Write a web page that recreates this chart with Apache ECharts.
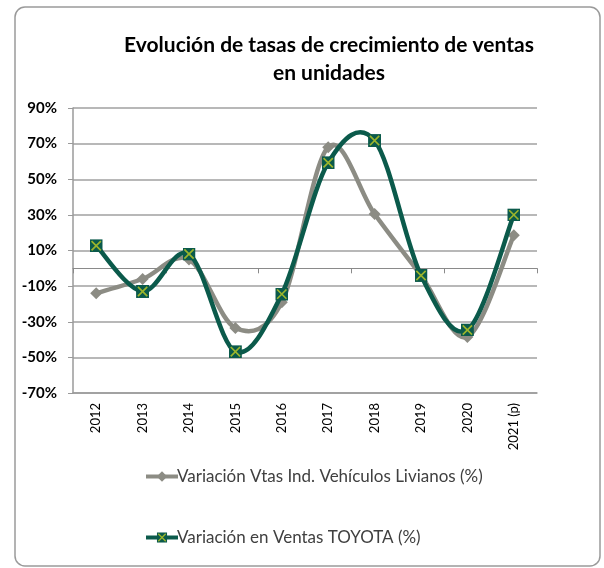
<!DOCTYPE html>
<html>
<head>
<meta charset="utf-8">
<script src="https://cdn.jsdelivr.net/npm/echarts@6/dist/echarts.min.js"></script>
<style>
  html, body { margin: 0; padding: 0; background: #fff; }
  #chart { width: 604px; height: 568px; }
</style>
</head>
<body>
<div id="chart"></div>
<script>
// categorias (años)
var years = ['2012', '2013', '2014', '2015', '2016', '2017', '2018', '2019', '2020', '2021 (p)'];
// Variación Vtas Ind. Vehículos Livianos (%)
var livianos = [-14, -6, 5, -33.5, -19, 68, 30.5, -4, -38.5, 18.5];
// Variación en Ventas TOYOTA (%)
var toyota = [12.7, -13, 8, -46.8, -14.5, 59.3, 71.7, -4, -34.6, 30];
// ticks eje Y
var yMin = -70, yMax = 90, yStep = 20;

var font = 'Lato';
var nameLiv = 'Variación Vtas Ind. Vehículos Livianos (%)';
var nameToy = 'Variación en Ventas TOYOTA (%)';
var chart = echarts.init(document.getElementById('chart'));

// marcador: cuadrado verde oscuro con X oliva
var svg = '<svg xmlns="http://www.w3.org/2000/svg" width="14" height="14" viewBox="0 0 14 14">' +
  '<rect x="0" y="0" width="14" height="14" fill="#0b5a4b"/>' +
  '<path d="M2,2L12,12M12,2L2,12" stroke="#9bb52c" stroke-width="1.8"/></svg>';
var boxX = 'image://data:image/svg+xml;utf8,' + encodeURIComponent(svg);

// curva suavizada tipo Excel (Catmull-Rom, 1/6), un tramo por punto
function curve(arr, color, w) {
  return function (params, api) {
    var i = params.dataIndex, n = arr.length;
    if (i >= n - 1) return null;
    var p = function (j) {
      j = Math.max(0, Math.min(n - 1, j));
      return api.coord([j, arr[j]]);
    };
    var p0 = p(i - 1), p1 = p(i), p2 = p(i + 1), p3 = p(i + 2);
    return {
      type: 'bezierCurve',
      shape: {
        x1: p1[0], y1: p1[1], x2: p2[0], y2: p2[1],
        cpx1: p1[0] + (p2[0] - p0[0]) / 6, cpy1: p1[1] + (p2[1] - p0[1]) / 6,
        cpx2: p2[0] - (p3[0] - p1[0]) / 6, cpy2: p2[1] - (p3[1] - p1[1]) / 6
      },
      style: { stroke: color, lineWidth: w, fill: null, lineCap: 'round' }
    };
  };
}
function pairs(arr) { return arr.map(function (v, i) { return [i, v]; }); }

chart.setOption({
  backgroundColor: '#fff',
  animation: false,
  title: {
    text: 'Evolución de tasas de crecimiento de ventas\nen unidades',
    left: 324,
    textAlign: 'center',
    top: 26,
    textStyle: { fontFamily: font, fontWeight: 'bold', fontSize: 21, color: '#000', lineHeight: 28 }
  },
  graphic: [{
    type: 'rect',
    shape: { x: 15, y: 7, width: 585, height: 559, r: 10 },
    style: { fill: null, stroke: '#9a9a9a', lineWidth: 1.5 },
    silent: true
  }],
  legend: {
    orient: 'vertical',
    left: 139,
    top: 463,
    itemGap: 44,
    itemWidth: 32,
    itemHeight: 13,
    textStyle: { fontFamily: font, fontSize: 17, color: '#404040', padding: [0, 0, 0, -6] },
    data: [
      { name: nameLiv, lineStyle: { opacity: 1, width: 4 } },
      { name: nameToy, lineStyle: { opacity: 1, width: 4 } }
    ]
  },
  grid: { left: 73, right: 67, top: 108, bottom: 175 },
  xAxis: [{
    type: 'category',
    data: years,
    boundaryGap: true,
    axisLine: { onZero: false, lineStyle: { color: '#9a9a9a', width: 1.5 } },
    axisTick: { show: false },
    axisLabel: { rotate: 90, fontFamily: font, fontSize: 13, color: '#000', margin: 10 }
  }, {
    type: 'category',
    data: years,
    position: 'bottom',
    boundaryGap: true,
    axisLine: { onZero: true, lineStyle: { color: '#8a8a8a', width: 1.2 } },
    axisTick: { show: true, length: 5, lineStyle: { color: '#8a8a8a' } },
    axisLabel: { show: false }
  }],
  yAxis: {
    type: 'value',
    min: yMin,
    max: yMax,
    interval: yStep,
    axisLine: { show: true, lineStyle: { color: '#9a9a9a', width: 1.5 } },
    axisTick: { show: true, length: 5, lineStyle: { color: '#9a9a9a' } },
    axisLabel: {
      formatter: function (v) { return v + '%'; },
      fontFamily: font, fontWeight: 'bold', fontSize: 15, color: '#000', margin: 16
    },
    splitLine: { lineStyle: { color: '#a0a0a0', width: 1.5 } }
  },
  series: [{
    type: 'custom',
    name: nameLiv + ' curva',
    data: pairs(livianos),
    renderItem: curve(livianos, '#8c8c84', 4.5),
    z: 2,
    silent: true
  }, {
    name: nameLiv,
    type: 'line',
    data: livianos,
    symbol: 'diamond',
    symbolSize: 12,
    lineStyle: { color: '#8c8c84', width: 4, opacity: 0 },
    itemStyle: { color: '#8c8c84' },
    z: 3
  }, {
    type: 'custom',
    name: nameToy + ' curva',
    data: pairs(toyota),
    renderItem: curve(toyota, '#0b5a4b', 4.5),
    z: 4,
    silent: true
  }, {
    name: nameToy,
    type: 'line',
    data: toyota,
    symbol: boxX,
    symbolSize: 13,
    lineStyle: { color: '#0b5a4b', width: 4, opacity: 0 },
    itemStyle: { color: '#0b5a4b' },
    z: 5
  }]
});
</script>
</body>
</html>
